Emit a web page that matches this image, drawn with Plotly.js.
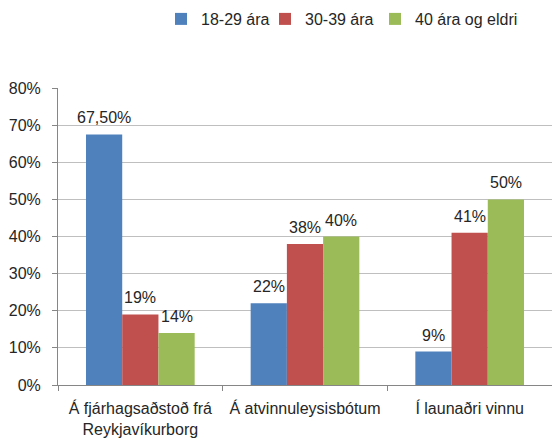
<!DOCTYPE html>
<html>
<head>
<meta charset="utf-8">
<script src="https://cdn.plot.ly/plotly-3.0.1.min.js"></script>
<style>html,body{margin:0;padding:0;background:#fff;}#chart{width:552px;height:438px;}</style>
</head>
<body>
<div id="chart"></div>
<script>
const categories = ["Á fjárhagsaðstoð frá<br>Reykjavíkurborg", "Á atvinnuleysisbótum", "Í launaðri vinnu"];
const seriesNames = ["18-29 ára", "30-39 ára", "40 ára og eldri"];
const values1829 = [0.675, 0.22, 0.09];
const values3039 = [0.19, 0.38, 0.41];
const values40 = [0.14, 0.40, 0.50];
const labels1829 = ["67,50%", "22%", "9%"];
const labels3039 = ["19%", "38%", "41%"];
const labels40 = ["14%", "40%", "50%"];
const yTickVals = [0, 0.1, 0.2, 0.3, 0.4, 0.5, 0.6, 0.7, 0.8];
const yTickText = ["0%", "10%", "20%", "30%", "40%", "50%", "60%", "70%", "80%"];

const colors = ["#4F81BD", "#C0504D", "#9BBB59"];
const FONT = "Liberation Sans, Arial, sans-serif";
const TXT = "#262626";
const BARGAP = 0.34;
const vals = [values1829, values3039, values40];
const labs = [labels1829, labels3039, labels40];
const legendIds = ["legend", "legend2", "legend3"];
const legendX = [161, 265, 375];

const traces = vals.map((v, i) => ({
  type: "bar",
  name: seriesNames[i],
  legend: legendIds[i],
  x: categories,
  y: v,
  marker: {color: colors[i]},
  hoverinfo: "none"
}));

// data labels placed through the axis scales (category index + bar offset within group)
const slot = (1 - BARGAP) / vals.length;
const annotations = [];
vals.forEach((v, i) => {
  v.forEach((y, c) => {
    annotations.push({
      xref: "x", yref: "y",
      x: c + (i - (vals.length - 1) / 2) * slot,
      y: y,
      text: labs[i][c],
      showarrow: false,
      xanchor: "center", yanchor: "bottom",
      yshift: 6,
      font: {family: FONT, size: 16, color: TXT}
    });
  });
});

const layout = {
  width: 552,
  height: 438,
  margin: {l: 58, r: 0, t: 88, b: 53},
  paper_bgcolor: "#ffffff",
  plot_bgcolor: "#ffffff",
  font: {family: FONT, size: 16, color: TXT},
  barmode: "group",
  bargap: BARGAP,
  bargroupgap: 0,
  showlegend: true,
  annotations: annotations,
  xaxis: {
    type: "category",
    range: [-0.5, 2.5],
    showline: true, linecolor: "#868686", linewidth: 1,
    ticks: "outside", tickson: "boundaries", ticklen: 5, tickcolor: "#868686",
    ticklabelstandoff: 9,
    showgrid: false, zeroline: false,
    tickfont: {family: FONT, size: 16, color: TXT}
  },
  yaxis: {
    range: [0, 0.8],
    tickvals: yTickVals, ticktext: yTickText,
    showline: true, linecolor: "#868686", linewidth: 1,
    ticks: "outside", ticklen: 5, tickcolor: "#868686",
    ticklabelstandoff: 8,
    showgrid: true, gridcolor: "#BFBFBF", gridwidth: 1,
    zeroline: false,
    tickfont: {family: FONT, size: 16, color: TXT}
  }
};
legendIds.forEach((id, i) => {
  layout[id] = {
    orientation: "h",
    xref: "container", yref: "container",
    x: legendX[i] / 552, xanchor: "left",
    y: 1 - 19 / 438, yanchor: "middle",
    bgcolor: "rgba(0,0,0,0)",
    font: {family: FONT, size: 16, color: TXT}
  };
});

Plotly.newPlot("chart", traces, layout, {displayModeBar: false, staticPlot: true});
</script>
</body>
</html>
